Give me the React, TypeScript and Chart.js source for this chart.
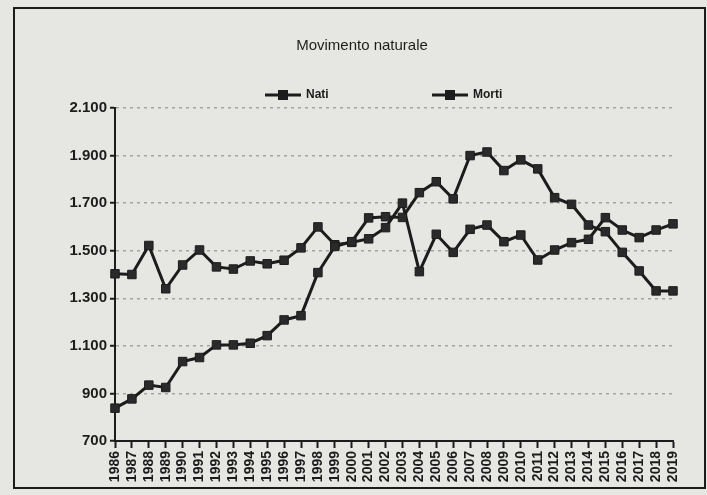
import React, { useEffect, useRef } from 'react';
import { Chart, registerables } from 'chart.js';

Chart.register(...registerables);

const chartTitle = 'Movimento naturale';

const years = [
  '1986', '1987', '1988', '1989', '1990', '1991', '1992', '1993', '1994', '1995',
  '1996', '1997', '1998', '1999', '2000', '2001', '2002', '2003', '2004', '2005',
  '2006', '2007', '2008', '2009', '2010', '2011', '2012', '2013', '2014', '2015',
  '2016', '2017', '2018', '2019',
];

const nati = [
  838, 877, 935, 925, 1034, 1051, 1104, 1104, 1111, 1143,
  1209, 1227, 1408, 1518, 1538, 1638, 1643, 1640, 1744, 1790,
  1718, 1900, 1915, 1837, 1882, 1844, 1723, 1695, 1608, 1580,
  1493, 1415, 1331, 1331,
];

const morti = [
  1403, 1400, 1522, 1340, 1440, 1503, 1432, 1423, 1457, 1445,
  1460, 1512, 1600, 1525, 1535, 1550, 1597, 1700, 1412, 1569,
  1493, 1590, 1608, 1538, 1566, 1461, 1503, 1534, 1548, 1639,
  1587, 1555, 1587, 1613,
];

const yMin = 700;
const yMax = 2100;
const yStep = 200;

const INK = '#1c1c1c';
const PAPER = '#e6e6e2';
const FONT = '"Liberation Sans Narrow", "Liberation Sans", Arial, sans-serif';

const fmt = (v: number) => String(v).replace(/\B(?=(\d{3})+(?!\d))/g, '.');

const overlayPlugin = {
  id: 'overlayTitleLegend',
  afterDraw(chart: any) {
    const ctx = chart.ctx;
    ctx.save();
    // title
    ctx.fillStyle = INK;
    ctx.font = `15px "Liberation Sans", Arial, sans-serif`;
    ctx.textAlign = 'center';
    ctx.textBaseline = 'middle';
    ctx.fillText(chartTitle, 362, 46);
    // legend
    const items = [
      { x: 265, ds: chart.data.datasets[0] },
      { x: 432, ds: chart.data.datasets[1] },
    ];
    const y = 95;
    items.forEach((it) => {
      ctx.strokeStyle = INK;
      ctx.lineWidth = 3;
      ctx.beginPath();
      ctx.moveTo(it.x, y);
      ctx.lineTo(it.x + 36, y);
      ctx.stroke();
      ctx.fillStyle = INK;
      ctx.fillRect(it.x + 13, y - 5, 10, 10);
      ctx.font = `bold 12px ${FONT}`;
      ctx.textAlign = 'left';
      ctx.textBaseline = 'middle';
      ctx.fillText(it.ds.label, it.x + 41, y);
    });
    ctx.restore();
  },
};

export default function App() {
  const canvasRef = useRef<HTMLCanvasElement | null>(null);

  useEffect(() => {
    const canvas = canvasRef.current;
    if (!canvas) return;
    const lineDs = (label: string, data: number[]) => ({
      label,
      data,
      borderColor: INK,
      backgroundColor: INK,
      borderWidth: 3,
      pointStyle: 'rect' as const,
      pointRadius: 6,
      pointBorderWidth: 1,
      pointBackgroundColor: '#2a2a2a',
      pointBorderColor: INK,
      tension: 0,
    });
    const chart = new Chart(canvas, {
      type: 'line',
      data: {
        labels: years,
        datasets: [lineDs('Nati', nati), lineDs('Morti', morti)],
      },
      options: {
        animation: false,
        responsive: false,
        maintainAspectRatio: false,
        layout: { padding: { left: 0, right: 34, top: 108, bottom: 0 } },
        plugins: {
          legend: { display: false },
          title: { display: false },
          tooltip: { enabled: false },
        },
        scales: {
          x: {
            type: 'category',
            offset: false,
            afterFit: (scale: any) => {
              scale.height = 495 - 441;
            },
            grid: {
              display: true,
              drawOnChartArea: false,
              drawTicks: true,
              tickLength: 7,
              tickColor: INK,
              tickWidth: 2,
            },
            border: { display: true, color: INK, width: 2 },
            ticks: {
              autoSkip: false,
              minRotation: 90,
              maxRotation: 90,
              padding: 3,
              color: INK,
              font: { family: FONT, size: 14, weight: 'bold' },
            },
          },
          y: {
            min: yMin,
            max: yMax,
            afterFit: (scale: any) => {
              scale.width = 115;
            },
            afterBuildTicks: (scale: any) => {
              const t = [];
              for (let v = yMin; v <= yMax; v += yStep) t.push({ value: v });
              scale.ticks = t;
            },
            grid: {
              display: true,
              drawOnChartArea: true,
              drawTicks: true,
              tickLength: 5,
              tickColor: INK,
              tickWidth: 2,
              tickBorderDash: [],
              lineWidth: 1.5,
              color: (c: any) => (c.tick && c.tick.value === yMin ? 'rgba(0,0,0,0)' : '#a3a3a0'),
            },
            border: { display: true, color: INK, width: 2, dash: [3, 4] },
            ticks: {
              padding: 3,
              color: INK,
              font: { family: FONT, size: 15, weight: 'bold' },
              callback: (v: any) => fmt(Number(v)),
            },
          },
        },
      },
      plugins: [overlayPlugin],
    });
    return () => chart.destroy();
  }, []);

  return (
    <div
      style={{
        position: 'fixed',
        left: 0,
        top: 0,
        width: 707,
        height: 495,
        background: PAPER,
        overflow: 'hidden',
      }}
    >
      <canvas ref={canvasRef} width={707} height={495} style={{ position: 'absolute', left: 0, top: 0 }} />
      <div
        style={{
          position: 'absolute',
          left: 13,
          top: 7,
          width: 693,
          height: 482,
          boxSizing: 'border-box',
          border: `2px solid ${INK}`,
          pointerEvents: 'none',
        }}
      />
    </div>
  );
}
